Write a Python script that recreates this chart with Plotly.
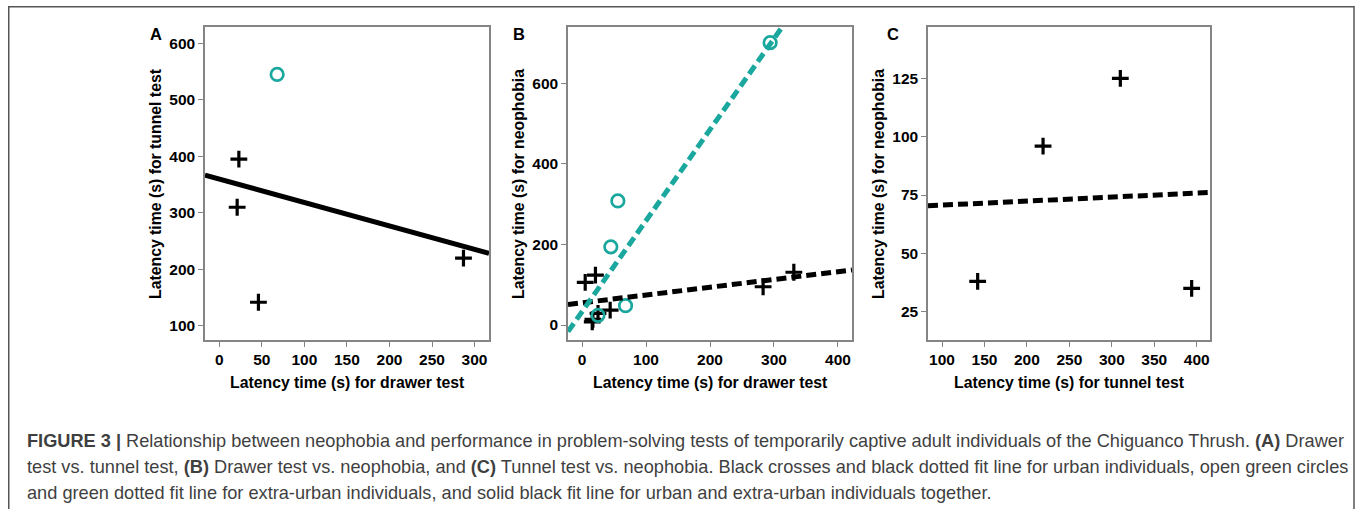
import plotly.graph_objects as go

W, H = 1357, 509

# ---------------- data ----------------
# Panel A: drawer test (x) vs tunnel test (y)
a_urban_x = [23, 21, 46, 287]
a_urban_y = [395, 310, 142, 220]
a_extra_x = [68]
a_extra_y = [545]
a_fit_all = (360.0, -0.415)          # intercept, slope (solid, all individuals)

# Panel B: drawer test (x) vs neophobia (y)
b_urban_x = [5, 21, 17, 25, 16, 44, 283, 331]
b_urban_y = [106, 124, 14, 29, 8, 37, 95, 131]
b_extra_x = [294, 56, 45, 68, 25]
b_extra_y = [701, 308, 194, 48, 24]
b_fit_urban = (55.2, 0.193)
b_fit_extra = (33.0, 2.26)

# Panel C: tunnel test (x) vs neophobia (y)
c_urban_x = [142, 219, 310, 394]
c_urban_y = [38, 96, 125, 35]
c_fit_urban = (68.97, 0.01717)

# axis ranges / ticks
a_xrange, a_yrange = [-16.8, 317], [75.2, 628.9]
b_xrange, b_yrange = [-21.9, 421.9], [-37.2, 739.8]
c_xrange, c_yrange = [83.5, 415.6], [12.9, 147]
a_xticks, a_yticks = [0, 50, 100, 150, 200, 250, 300], [100, 200, 300, 400, 500, 600]
b_xticks, b_yticks = [0, 100, 200, 300, 400], [0, 200, 400, 600]
c_xticks, c_yticks = [100, 150, 200, 250, 300, 350, 400], [25, 50, 75, 100, 125]

TEAL = "#19A79E"
FONT = "Liberation Sans"

fig = go.Figure()

def px_x(p):
    return p / W

def px_y(p):
    return 1 - p / H

def fit_line(fit, xr):
    b0, b1 = fit
    xs = [xr[0], xr[1]]
    return xs, [b0 + b1 * x for x in xs]

cross = dict(symbol="cross-thin-open", size=12, line=dict(width=3.2, color="black"), color="black")
circ = dict(symbol="circle-open", size=12.5, line=dict(width=2.7, color=TEAL), color=TEAL)

# Panel A
xs, ys = fit_line(a_fit_all, a_xrange)
fig.add_trace(go.Scatter(x=xs, y=ys, mode="lines", line=dict(color="black", width=5), xaxis="x", yaxis="y"))
fig.add_trace(go.Scatter(x=a_urban_x, y=a_urban_y, mode="markers", marker=cross, xaxis="x", yaxis="y"))
fig.add_trace(go.Scatter(x=a_extra_x, y=a_extra_y, mode="markers", marker=circ, xaxis="x", yaxis="y"))

# Panel B
fig.add_trace(go.Scatter(x=b_urban_x, y=b_urban_y, mode="markers", marker=cross, xaxis="x2", yaxis="y2"))
fig.add_trace(go.Scatter(x=b_extra_x, y=b_extra_y, mode="markers", marker=circ, xaxis="x2", yaxis="y2"))
xs, ys = fit_line(b_fit_urban, b_xrange)
fig.add_trace(go.Scatter(x=xs, y=ys, mode="lines", line=dict(color="black", width=5, dash="10px,5px"), xaxis="x2", yaxis="y2"))
xs, ys = fit_line(b_fit_extra, b_xrange)
fig.add_trace(go.Scatter(x=xs, y=ys, mode="lines", line=dict(color=TEAL, width=5, dash="10px,5px"), xaxis="x2", yaxis="y2"))

# Panel C
xs, ys = fit_line(c_fit_urban, c_xrange)
fig.add_trace(go.Scatter(x=xs, y=ys, mode="lines", line=dict(color="black", width=5, dash="10px,5px"), xaxis="x3", yaxis="y3"))
fig.add_trace(go.Scatter(x=c_urban_x, y=c_urban_y, mode="markers", marker=cross, xaxis="x3", yaxis="y3"))

tickfont = dict(family=FONT, size=15.5, color="black", weight="bold")

def ax(domain, rng, ticks, anchor):
    return dict(domain=domain, range=rng, tickvals=ticks, ticktext=[str(t) for t in ticks],
                showgrid=False, zeroline=False, showline=True, mirror=True,
                linecolor="#858585", linewidth=1.5, ticks="outside", ticklen=5,
                tickcolor="#858585", tickwidth=1.2, tickfont=tickfont, anchor=anchor)

ydom = [px_y(340), px_y(27)]
fig.update_layout(
    xaxis=ax([px_x(205), px_x(489)], a_xrange, a_xticks, "y"),
    yaxis=ax(ydom, a_yrange, a_yticks, "x"),
    xaxis2=ax([px_x(568), px_x(852)], b_xrange, b_xticks, "y2"),
    yaxis2=ax(ydom, b_yrange, b_yticks, "x2"),
    xaxis3=ax([px_x(928), px_x(1210)], c_xrange, c_xticks, "y3"),
    yaxis3=ax(ydom, c_yrange, c_yticks, "x3"),
)

annotations = []
def ann(text, x, y, size, angle=0, xanchor="center", yanchor="middle", color="black"):
    annotations.append(dict(text=text, x=px_x(x), y=px_y(y), xref="paper", yref="paper",
                            showarrow=False, textangle=angle, xanchor=xanchor, yanchor=yanchor,
                            font=dict(family=FONT, size=size, color=color)))

# axis titles
TS = 15.8
ann("<b>Latency time (s) for drawer test</b>", 347, 382, TS)
ann("<b>Latency time (s) for tunnel test</b>", 155, 184, TS, angle=-90)
ann("<b>Latency time (s) for drawer test</b>", 710, 382, TS)
ann("<b>Latency time (s) for neophobia</b>", 518, 184, TS, angle=-90)
ann("<b>Latency time (s) for tunnel test</b>", 1069, 382, TS)
ann("<b>Latency time (s) for neophobia</b>", 878, 184, TS, angle=-90)

# panel letters
ann("<b>A</b>", 156, 34, 16.5)
ann("<b>B</b>", 519, 34, 16.5)
ann("<b>C</b>", 893, 34, 16.5)

# caption
cap_color = "#3f3f3f"
cap1 = ("<b>FIGURE 3 |</b> Relationship between neophobia and performance in problem-solving tests of "
        "temporarily captive adult individuals of the Chiguanco Thrush. <b>(A)</b> Drawer")
cap2 = ("test vs. tunnel test, <b>(B)</b> Drawer test vs. neophobia, and <b>(C)</b> Tunnel test vs. neophobia. "
        "Black crosses and black dotted fit line for urban individuals, open green circles")
cap3 = ("and green dotted fit line for extra-urban individuals, and solid black fit line for urban and "
        "extra-urban individuals together.")
CS = 18.2
ann(cap1, 25, 441, CS, xanchor="left", color=cap_color)
ann(cap2, 25, 467, CS, xanchor="left", color=cap_color)
ann(cap3, 25, 493, CS, xanchor="left", color=cap_color)

shapes = [dict(type="rect", xref="paper", yref="paper", x0=px_x(8.75), x1=px_x(1354),
               y0=px_y(540), y1=px_y(6.75), line=dict(color="#555555", width=1.5))]

fig.update_layout(width=W, height=H, margin=dict(l=0, r=0, t=0, b=0),
                  paper_bgcolor="white", plot_bgcolor="white", showlegend=False,
                  annotations=annotations, shapes=shapes)

fig.write_html("out.html", config={"displayModeBar": False},
               post_script="document.body.style.margin='0';document.body.style.overflow='hidden';")
